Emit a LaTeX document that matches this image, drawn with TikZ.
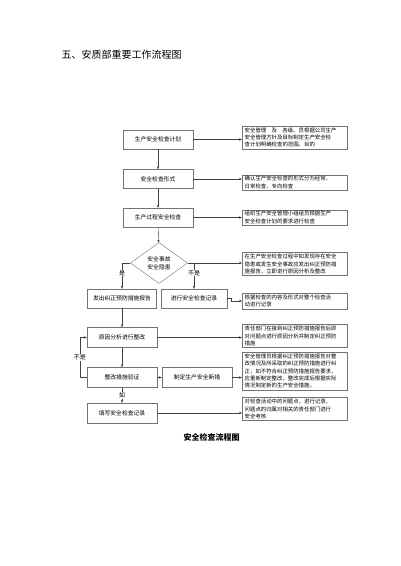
\documentclass[tikz,border=0pt]{standalone}
\usepackage{fontspec}
\setmainfont{Noto Sans CJK SC}
\usetikzlibrary{arrows.meta,shapes.geometric}

\begin{document}
\begin{tikzpicture}[x=1pt,y=-1pt,
	box/.style={draw=black!55,minimum width=70pt,minimum height=20pt,inner sep=1pt,font=\fontsize{5.8}{7}\selectfont},
	note/.style={draw=black!55,anchor=west,text width=100pt,inner xsep=2.5pt,inner ysep=1.5pt,align=left,font=\fontsize{5.4}{7.4}\selectfont},
	lab/.style={fill=white,inner sep=0.5pt,font=\fontsize{6}{7}\selectfont},
	arr/.style={draw=black!75,-{Stealth[length=3pt,width=2.4pt]}}]
		\useasboundingbox (0,0) rectangle (400,566);
		\node[anchor=west,font=\fontsize{10}{12}\selectfont] (title) at (58,55) {五、安质部重要工作流程图};
		
		% main column
		\node[box,minimum height=19pt] (jh) at (158,139.5) {生产安全检查计划};
		\node[box,minimum height=19pt] (xs) at (158,179) {安全检查形式};
		\node[box,minimum height=19pt] (gc) at (158,217.5) {生产过程安全检查};
		\node[draw=black!55,diamond,aspect=1.4,minimum width=57pt,minimum height=41pt,inner sep=0pt,align=center,font=\fontsize{5.8}{8}\selectfont] (sg) at (159,263) {安全事故\\安全隐患};
		\node[box,minimum width=69pt,minimum height=19pt] (bg) at (122,298.5) {发出纠正预防措施报告};
		\node[box,minimum width=66pt,minimum height=19pt] (jl) at (194,298.5) {进行安全检查记录};
		\node[box] (zg) at (122,337.5) {原因分析进行整改};
		\node[box] (yz) at (122,377.5) {整改措施验证};
		\node[box] (cs) at (197,377.5) {制定生产安全新措};
		\node[box] (tx) at (122,413) {填写安全检查记录};
		
		% notes
		\node[note] (n1) at (242,137.5) {安全管理　及　各级、员根据公司生产\\安全管理方针及目标制定生产安全检\\查计划明确检查的范围、目的};
		\node[note] (n2) at (242,182.5) {确认生产安全检查的形式分为经常、\\日常检查、专向检查};
		\node[note] (n3) at (242,217.5) {组织生产安全管理小组组员根据生产\\安全检查计划的要求进行检查};
		\node[note] (n4) at (242,264) {在生产安全检查过程中如发现存在安全\\隐患或发生安全事故应发出纠正预防措\\施报告，立即进行原因分析及整改};
		\node[note] (n5) at (242,301) {根据检查的内容及形式对整个检查活\\动进行记录};
		\node[note] (n6) at (242,336) {责任部门在接到纠正预防措施报告后即\\对问题点进行原因分析并制定纠正预防\\措施};
		\node[note] (n7) at (242,371) {安全管理员根据纠正预防措施报告对整\\改情况及所采取的纠正预防措施进行纠\\正，如不符合纠正预防措施报告要求，\\应重新制定整改，整改完成后根据实际\\情况制定新的生产安全措施。};
		\node[note] (n8) at (242,409) {对检查活动中的问题点，进行记录，\\问题点的归属对相关的责任部门进行\\安全考核};
		
		\node[font=\fontsize{8}{10}\selectfont\bfseries] (bt) at (211.5,437) {安全检查流程图};
		
		% connectors
		\draw[arr] (jh) -- (xs);
		\draw[arr] (xs) -- (gc);
		\draw[arr] (gc) -- (sg);
		\draw[arr] (jh.east) -- (jh.east -| n1.west);
		\draw[arr] (xs.east) -- (xs.east -| n2.west);
		\draw[arr] (gc.east) -- (gc.east -| n3.west);
		\draw[arr] (sg.east) -- (sg.east -| n4.west);
		\draw[arr] (sg.east -| jl.north) -- node[lab,pos=0.4]{不是} (jl.north);
		\draw[arr] (sg.west) -| node[lab,pos=0.7]{是} (bg.north);
		\draw[arr] (jl.east) -- ++(4,0) |- (n5.west);
		\draw[arr] (bg) -- (zg);
		\draw[arr] (zg) -- (yz);
		\draw[arr] (yz) -- node[lab]{如} (tx);
		\draw[arr] (yz) -- (cs);
		\draw[arr] (zg.east) -- (zg.east -| n6.west);
		\draw[arr] (cs.east) -- (cs.east -| n7.west);
		\draw[arr] (tx.east) -- (tx.east -| n8.west);
		\draw[arr] (yz.west) -- ++(-7,0) |- node[lab,pos=0.25]{不是} (zg.west);
	\end{tikzpicture}
\end{document}
